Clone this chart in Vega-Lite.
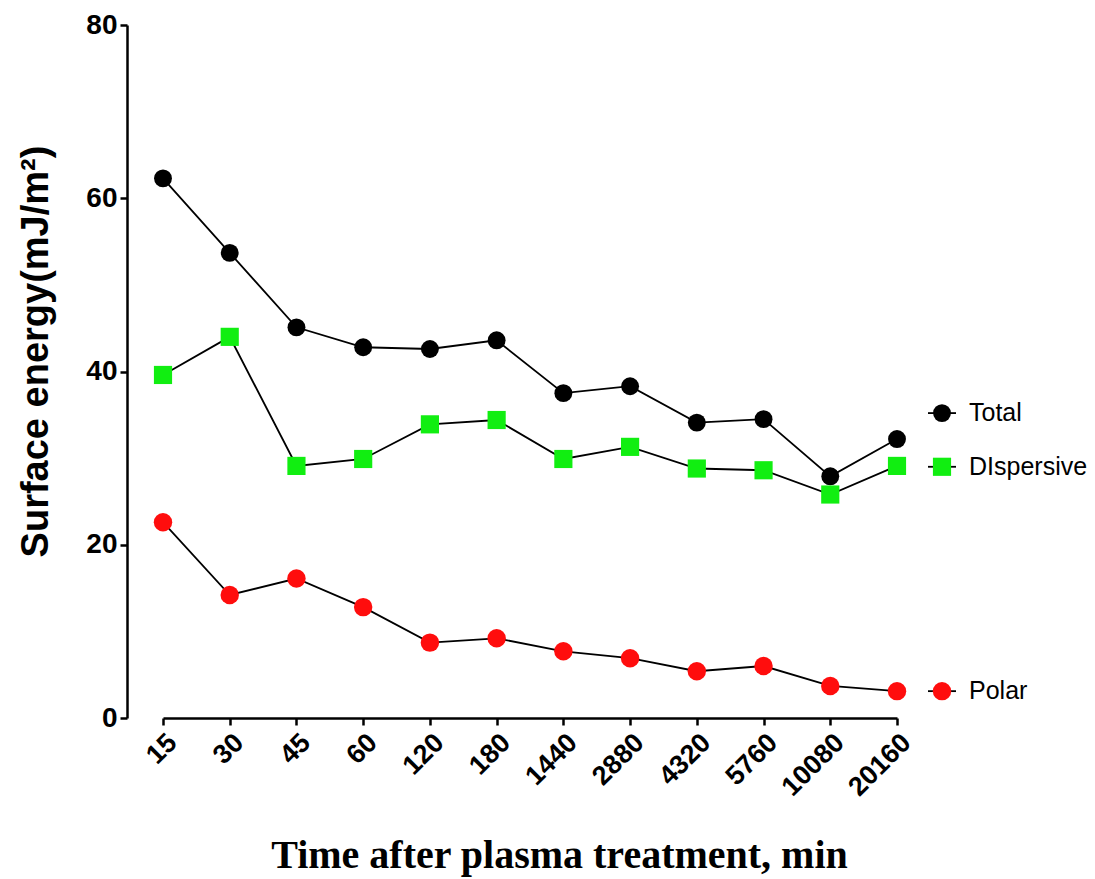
{
  "$schema": "https://vega.github.io/schema/vega-lite/v6.json",
  "width": 773,
  "height": 693,
  "autosize": {"type": "none"},
  "padding": {"left": 127, "top": 25, "right": 195, "bottom": 161},
  "background": "white",
  "config": {"view": {"stroke": null}},
  "datasets": {
    "pts": [
      {"time": "15", "series": "Total", "value": 62.3},
      {"time": "30", "series": "Total", "value": 53.7},
      {"time": "45", "series": "Total", "value": 45.1},
      {"time": "60", "series": "Total", "value": 42.8},
      {"time": "120", "series": "Total", "value": 42.6},
      {"time": "180", "series": "Total", "value": 43.6},
      {"time": "1440", "series": "Total", "value": 37.5},
      {"time": "2880", "series": "Total", "value": 38.3},
      {"time": "4320", "series": "Total", "value": 34.1},
      {"time": "5760", "series": "Total", "value": 34.5},
      {"time": "10080", "series": "Total", "value": 27.9},
      {"time": "20160", "series": "Total", "value": 32.2},
      {"time": "15", "series": "DIspersive", "value": 39.6},
      {"time": "30", "series": "DIspersive", "value": 44.0},
      {"time": "45", "series": "DIspersive", "value": 29.1},
      {"time": "60", "series": "DIspersive", "value": 29.9},
      {"time": "120", "series": "DIspersive", "value": 33.9},
      {"time": "180", "series": "DIspersive", "value": 34.4},
      {"time": "1440", "series": "DIspersive", "value": 29.9},
      {"time": "2880", "series": "DIspersive", "value": 31.3},
      {"time": "4320", "series": "DIspersive", "value": 28.8},
      {"time": "5760", "series": "DIspersive", "value": 28.6},
      {"time": "10080", "series": "DIspersive", "value": 25.8},
      {"time": "20160", "series": "DIspersive", "value": 29.1},
      {"time": "15", "series": "Polar", "value": 22.6},
      {"time": "30", "series": "Polar", "value": 14.2},
      {"time": "45", "series": "Polar", "value": 16.1},
      {"time": "60", "series": "Polar", "value": 12.8},
      {"time": "120", "series": "Polar", "value": 8.7},
      {"time": "180", "series": "Polar", "value": 9.2},
      {"time": "1440", "series": "Polar", "value": 7.7},
      {"time": "2880", "series": "Polar", "value": 6.9},
      {"time": "4320", "series": "Polar", "value": 5.4},
      {"time": "5760", "series": "Polar", "value": 6.0},
      {"time": "10080", "series": "Polar", "value": 3.7},
      {"time": "20160", "series": "Polar", "value": 3.1}
    ],
    "leg": [
      {"time": "20160", "series": "Total", "value": 35.2},
      {"time": "20160", "series": "DIspersive", "value": 29.0},
      {"time": "20160", "series": "Polar", "value": 3.1}
    ]
  },
  "encoding": {
    "x": {
      "field": "time",
      "type": "ordinal",
      "sort": ["15", "30", "45", "60", "120", "180", "1440", "2880", "4320", "5760", "10080", "20160"],
      "scale": {"type": "point", "range": [36, 770], "padding": 0},
      "axis": {
        "title": "Time after plasma treatment, min",
        "titleFont": "Liberation Serif",
        "titleFontWeight": "bold",
        "titleFontSize": 40,
        "titleColor": "black",
        "titleX": 432,
        "titleY": 117,
        "labelAngle": -45,
        "labelFont": "Liberation Sans",
        "labelFontWeight": "bold",
        "labelFontSize": 27,
        "labelColor": "black",
        "labelPadding": 4,
        "domainColor": "black",
        "domainWidth": 2.5,
        "tickColor": "black",
        "tickWidth": 2.5,
        "tickSize": 7,
        "grid": false
      }
    },
    "y": {
      "field": "value",
      "type": "quantitative",
      "scale": {"domain": [0, 80], "nice": false},
      "axis": {
        "title": "Surface energy(mJ/m²)",
        "titleFont": "Liberation Sans",
        "titleFontWeight": "bold",
        "titleFontSize": 38,
        "titleColor": "black",
        "titleX": -72,
        "titleY": 326,
        "values": [0, 20, 40, 60, 80],
        "labelFont": "Liberation Sans",
        "labelFontWeight": "bold",
        "labelFontSize": 28,
        "labelColor": "black",
        "labelPadding": 3,
        "domainColor": "black",
        "domainWidth": 2.5,
        "tickColor": "black",
        "tickWidth": 2.5,
        "tickSize": 7,
        "grid": false
      }
    }
  },
  "layer": [
    {
      "data": {"name": "pts"},
      "mark": {"type": "line", "color": "black", "strokeWidth": 1.8},
      "encoding": {"detail": {"field": "series"}}
    },
    {
      "data": {"name": "pts"},
      "mark": {"type": "point", "filled": true, "opacity": 1},
      "encoding": {
        "color": {"field": "series", "type": "nominal", "scale": {"domain": ["Total", "DIspersive", "Polar"], "range": ["#000000", "#11ee11", "#ff0d0d"]}, "legend": null},
        "shape": {"field": "series", "type": "nominal", "scale": {"domain": ["Total", "DIspersive", "Polar"], "range": ["circle", "square", "circle"]}, "legend": null},
        "size": {"field": "series", "type": "nominal", "scale": {"domain": ["Total", "DIspersive", "Polar"], "range": [320, 340, 320]}, "legend": null}
      }
    },
    {
      "data": {"name": "leg"},
      "mark": {"type": "rule", "color": "black", "strokeWidth": 1.8, "xOffset": 31, "x2Offset": 59},
      "encoding": {"x2": {"field": "time"}}
    },
    {
      "data": {"name": "leg"},
      "mark": {"type": "point", "filled": true, "opacity": 1, "xOffset": 45},
      "encoding": {
        "color": {"field": "series", "type": "nominal", "legend": null},
        "shape": {"field": "series", "type": "nominal", "legend": null},
        "size": {"field": "series", "type": "nominal", "legend": null}
      }
    },
    {
      "data": {"name": "leg"},
      "mark": {"type": "text", "align": "left", "baseline": "middle", "xOffset": 72, "font": "Liberation Sans", "fontSize": 25, "color": "black"},
      "encoding": {"text": {"field": "series"}}
    }
  ]
}
